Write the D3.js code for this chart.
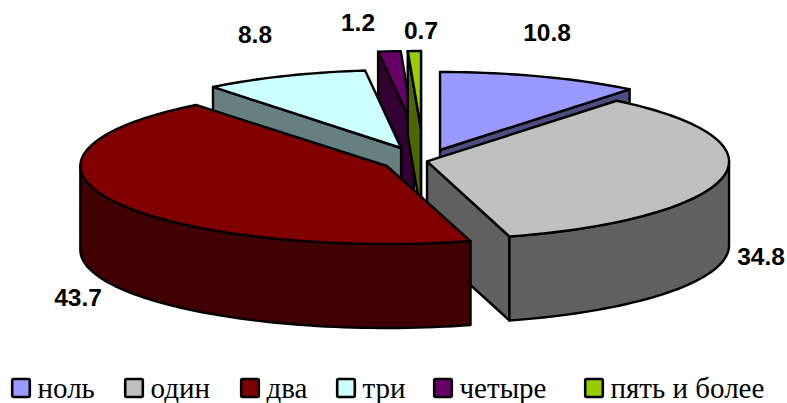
<!DOCTYPE html>
<html><head><meta charset="utf-8">
<script src="https://cdn.jsdelivr.net/npm/d3@7/dist/d3.min.js"></script>
<style>html,body{margin:0;padding:0;background:#fff}svg{display:block}</style>
</head><body><svg id="c" width="787" height="403"></svg>
<script>
const categories = ["ноль","один","два","три","четыре","пять и более"];
const values = [10.8,34.8,43.7,8.8,1.2,0.7];
const valueLabels = ["10.8","34.8","43.7","8.8","1.2","0.7"];
const topColors = ["#9999FF","#C0C0C0","#800000","#CCFFFF","#660066","#99CC00"];
const wallColors = ["#4D4D80","#606060","#400000","#668080","#330033","#4D6600"];
// explosion of each slice, in pie-radius units from the pie centre
const explodeX = [0.116,0.073,-0.06,-0.013,0.03,0.053];
const explodeY = [-0.128,0.019,0.077,-0.154,-0.397,-0.397];
const radiusX = [1,1,1.015,1,1,1];
const labelX = [547,761,78,255,358,421];
const labelY = [41,265,306,43,31,39];
const legendSwatchX = [11,124,240,336,433,584];
const drawOrder = [0,4,5,3,1,2];

const cx=405, cy=160, rx=302, ry=78, depth=84;
const X=d3.scaleLinear().domain([-1,1]).range([cx-rx,cx+rx]);
const Y=d3.scaleLinear().domain([-1,1]).range([cy-ry,cy+ry]);
const svg=d3.select("#c");
const arcs=d3.pie().sort(null)(values);
const line=d3.line();
const pt=(i,a,r,dz)=>[X(explodeX[i]+radiusX[i]*r*Math.sin(a)),Y(explodeY[i]-r*Math.cos(a))+(dz||0)];
const rim=(i,a0,a1,dz)=>{const n=Math.max(2,Math.ceil((a1-a0)/0.03));return d3.range(n+1).map(k=>pt(i,a0+(a1-a0)*k/n,1,dz));};
const g=svg.append("g").attr("stroke","#000").attr("stroke-width",2.4).attr("stroke-linejoin","round");
const poly=(pts,fill)=>g.append("path").attr("d",line(pts)+"Z").attr("fill",fill);

drawOrder.forEach(i=>{
  const a0=arcs[i].startAngle,a1=arcs[i].endAngle,wall=wallColors[i];
  if(Math.sin(a0)<0) poly([pt(i,a0,1),pt(i,0,0),pt(i,0,0,depth),pt(i,a0,1,depth)],wall);
  if(Math.sin(a1)>0||i===0){poly([pt(i,a1,1),pt(i,0,0),pt(i,0,0,depth),pt(i,a1,1,depth)],wall);}
  const f0=Math.max(a0,Math.PI/2),f1=Math.min(a1,3*Math.PI/2);
  if(f1>f0) poly(rim(i,f0,f1,0).concat(rim(i,f0,f1,depth).reverse()),wall);
  poly([pt(i,0,0)].concat(rim(i,a0,a1,0)),topColors[i]);
});

svg.append("g").selectAll("text").data(valueLabels).join("text")
 .attr("x",(d,i)=>labelX[i]).attr("y",(d,i)=>labelY[i]).attr("text-anchor","middle")
 .attr("font-family","'Liberation Sans',Arial,sans-serif").attr("font-weight","bold")
 .attr("font-size",24.5).attr("fill","#000").text(d=>d);

const leg=svg.append("g").selectAll("g").data(categories).join("g")
 .attr("transform",(d,i)=>`translate(${legendSwatchX[i]},0)`);
leg.append("rect").attr("x",1.2).attr("y",379).attr("width",17.6).attr("height",18)
 .attr("rx",1.5).attr("fill",(d,i)=>topColors[i]).attr("stroke","#000").attr("stroke-width",2.6);
leg.append("text").attr("x",26.5).attr("y",397.5)
 .attr("font-family","'Liberation Serif','Times New Roman',serif").attr("font-size",29)
 .attr("fill","#000").text(d=>d);
</script></body></html>
